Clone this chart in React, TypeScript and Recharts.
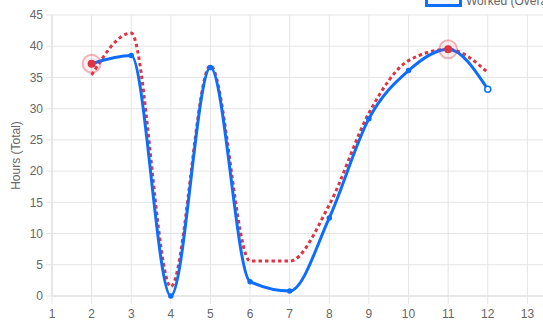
import { LineChart, Line, XAxis, YAxis, CartesianGrid } from 'recharts';

const hours = [2, 3, 4, 5, 6, 7, 8, 9, 10, 11, 12];
const workedOverall = [37.2, 38.5, 0, 36.6, 2.3, 0.8, 12.5, 28.4, 36.1, 39.5, 33.1];
const workedTarget = [35.4, 42.1, 1.5, 36.9, 5.6, 5.6, 14.6, 29.3, 37.7, 39.5, 35.8];
const flagged = [37.2, null, null, null, null, null, null, null, null, 39.5, null];

const xTicks = [1, 2, 3, 4, 5, 6, 7, 8, 9, 10, 11, 12, 13];
const yTicks = [0, 5, 10, 15, 20, 25, 30, 35, 40, 45];

const BLUE = '#0d6efd';
const RED = '#dc3545';
const GRID = '#e5e5e5';

const data = hours.map((h, i) => ({
  hour: h,
  overall: workedOverall[i],
  target: workedTarget[i],
  flag: flagged[i],
}));

function OverallDot(props: any) {
  const { cx, cy, index } = props;
  if (cx == null || cy == null) return <g key={index} />;
  const last = index === hours.length - 1;
  return (
    <circle
      key={index}
      cx={cx}
      cy={cy}
      r={last ? 3 : 2}
      fill={last ? '#fff' : BLUE}
      stroke={BLUE}
      strokeWidth={1.5}
    />
  );
}

function FlagDot(props: any) {
  const { cx, cy, value, index } = props;
  if (value == null || cx == null || cy == null) return <g key={index} />;
  return (
    <g key={index}>
      <circle cx={cx} cy={cy} r={9} fill="rgba(220,53,69,0.08)" stroke="rgba(220,53,69,0.35)" strokeWidth={2} />
      <circle cx={cx} cy={cy} r={4} fill={RED} />
    </g>
  );
}

export default function App() {
  return (
    <div
      style={{
        position: 'absolute',
        left: 0,
        top: 0,
        width: 543,
        height: 332,
        overflow: 'hidden',
        background: '#fff',
        fontFamily: '"Liberation Sans", Arial, sans-serif',
      }}
    >
      <div
        style={{
          position: 'absolute',
          top: -6,
          left: 425,
          display: 'flex',
          alignItems: 'center',
          fontSize: 12,
          color: '#666',
          whiteSpace: 'nowrap',
          zIndex: 2,
        }}
      >
        <div
          style={{
            width: 37,
            height: 12,
            boxSizing: 'border-box',
            border: `3px solid ${BLUE}`,
            background: 'rgba(13,110,253,0.06)',
            marginRight: 4,
          }}
        />
        <span>Worked (Overall)</span>
      </div>
      <LineChart width={580} height={332} data={data} margin={{ top: 15, right: 13, left: 0, bottom: 0 }}>
        <CartesianGrid stroke={GRID} />
        <XAxis
          dataKey="hour"
          type="number"
          domain={[1, 14]}
          ticks={xTicks}
          allowDataOverflow
          height={36}
          tickSize={8}
          tickMargin={5}
          tick={{ fill: '#666', fontSize: 12 }}
          tickLine={{ stroke: GRID }}
          axisLine={{ stroke: '#dcdcdc' }}
        />
        <YAxis
          type="number"
          domain={[0, 45]}
          ticks={yTicks}
          width={52}
          tickSize={6}
          tickMargin={3}
          tick={{ fill: '#666', fontSize: 12 }}
          tickLine={{ stroke: GRID }}
          axisLine={{ stroke: '#dcdcdc' }}
          label={() => (
            <text
              x={16}
              y={155.5}
              transform="rotate(-90 16 155.5)"
              textAnchor="middle"
              dominantBaseline="central"
              fill="#666"
              fontSize={12}
            >
              Hours (Total)
            </text>
          )}
        />
        <Line
          dataKey="target"
          name="Worked (Target)"
          type="monotone"
          stroke={RED}
          strokeWidth={3}
          strokeDasharray="3.5 3"
          dot={false}
          activeDot={false}
          isAnimationActive={false}
        />
        <Line
          dataKey="overall"
          name="Worked (Overall)"
          type="monotone"
          stroke={BLUE}
          strokeWidth={3}
          dot={<OverallDot />}
          activeDot={false}
          isAnimationActive={false}
        />
        <Line
          dataKey="flag"
          name="Flagged"
          stroke="none"
          strokeWidth={0}
          dot={<FlagDot />}
          activeDot={false}
          legendType="none"
          isAnimationActive={false}
        />
      </LineChart>
    </div>
  );
}
